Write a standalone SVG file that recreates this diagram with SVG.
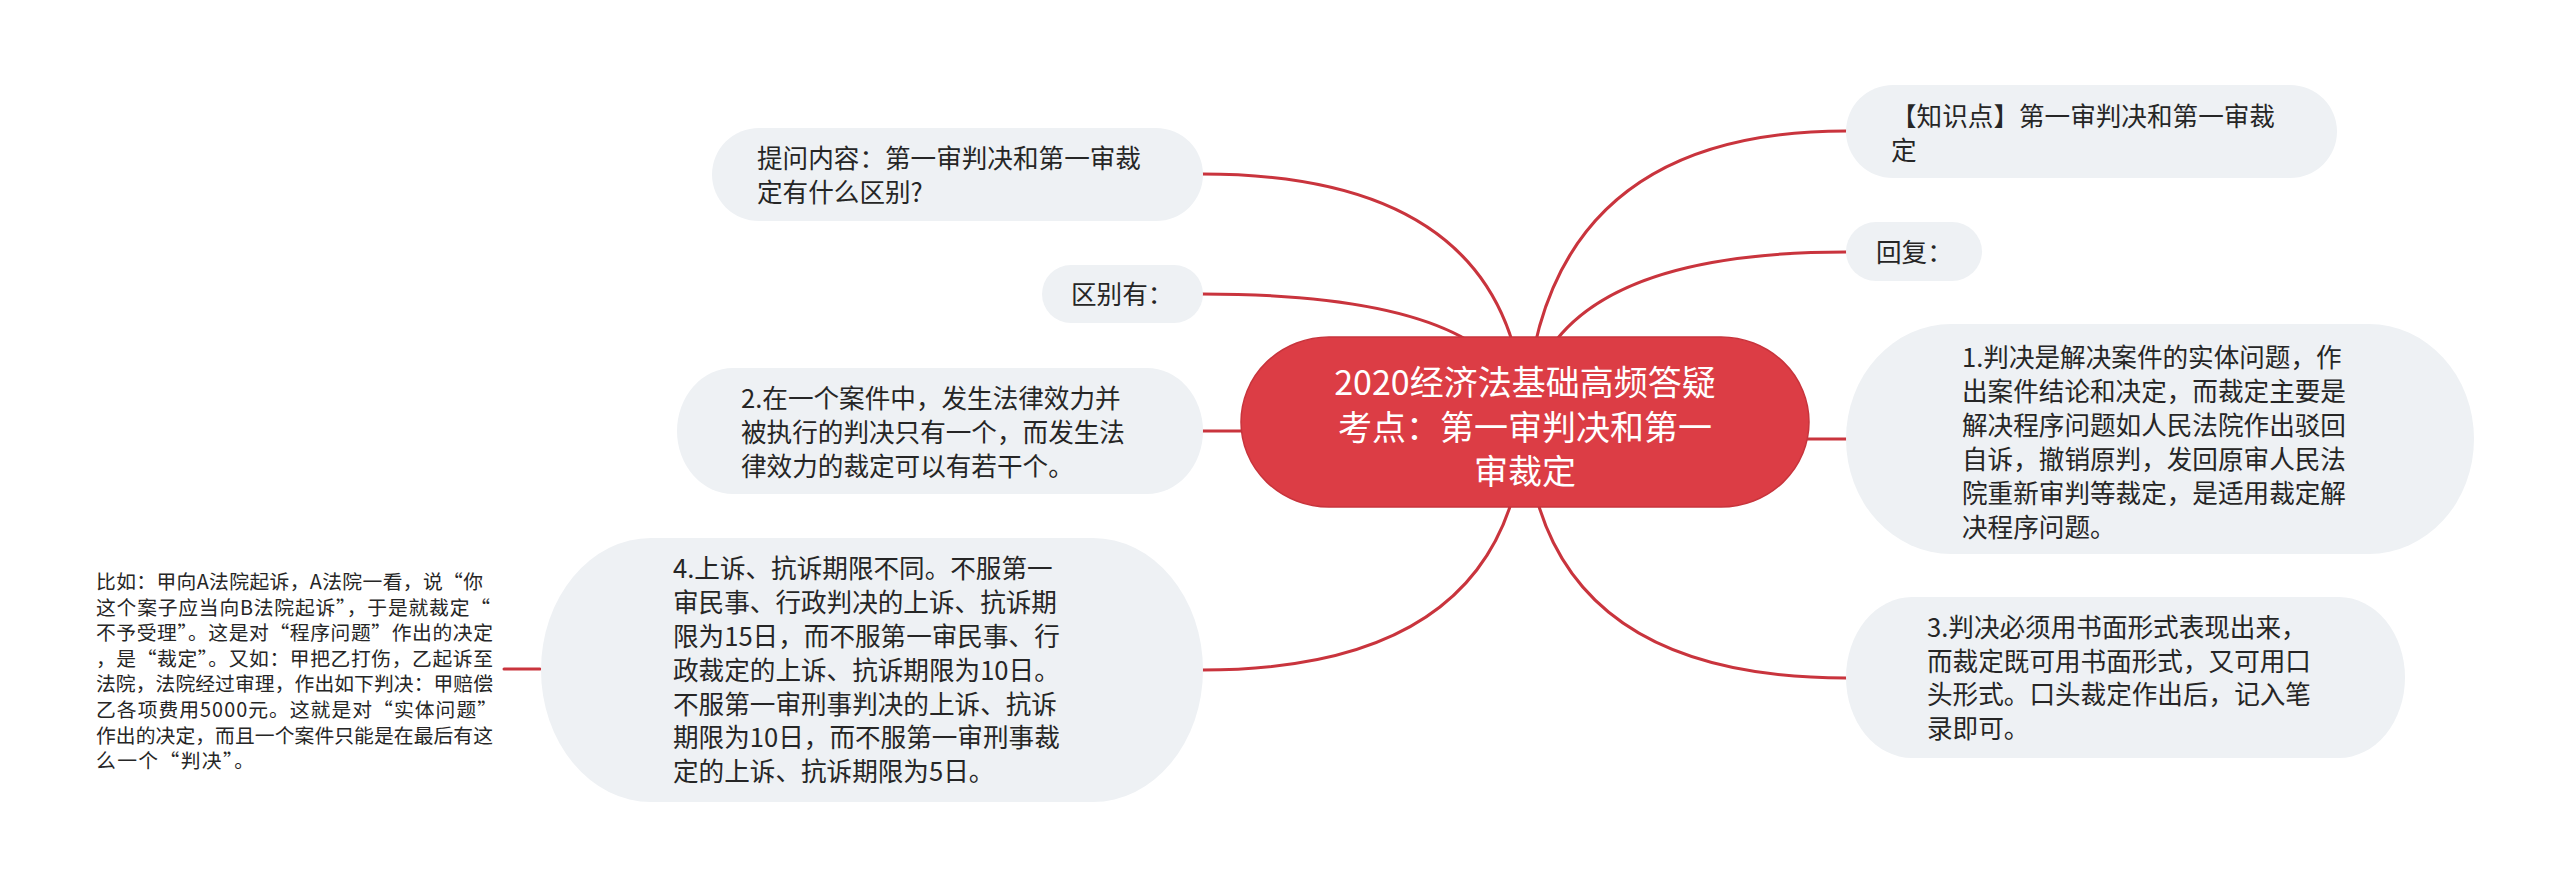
<svg xmlns="http://www.w3.org/2000/svg" width="2560" height="887" viewBox="0 0 2560 887">
<style>
.bg{fill:#ffffff}
.edge{fill:none;stroke:#c9343d;stroke-width:3;stroke-linecap:round}
.box{fill:#eef1f4}
.root{fill:#dc3d45;stroke:#c8343c;stroke-width:1.5}
.t{font-family:"Noto Sans CJK SC","Noto Sans",sans-serif;font-size:25.6px;fill:#262626}
.s{font-family:"Noto Sans CJK SC","Noto Sans",sans-serif;font-size:19.8px;fill:#262626}
.rt{font-family:"Noto Sans CJK SC","Noto Sans",sans-serif;font-size:34px;fill:#ffffff;text-anchor:middle}
</style>
<rect class="bg" x="0" y="0" width="2560" height="887"/>
<g id="connectors">
<path class="edge" d="M1525,420 Q1540,131 1846,131"/>
<path class="edge" d="M1525,420 Q1542,252 1846,252"/>
<path class="edge" d="M1525,439 L1846,439"/>
<path class="edge" d="M1525,420 Q1535,678 1846,678"/>
<path class="edge" d="M1525,420 Q1515,174 1202,174"/>
<path class="edge" d="M1525,420 Q1510,294 1202,294"/>
<path class="edge" d="M1525,431 L1202,431"/>
<path class="edge" d="M1525,420 Q1515,670 1202,670"/>
<path class="edge" d="M540,669 L504,669"/>
</g>
<g id="root">
<rect class="root" x="1241" y="337" width="568" height="170" rx="88" ry="85"/>
<text class="rt" x="1525" y="395">2020经济法基础高频答疑</text>
<text class="rt" x="1525" y="440">考点：第一审判决和第一</text>
<text class="rt" x="1525" y="484">审裁定</text>
</g>
<g id="n-zhishidian">
<rect class="box" x="1846" y="85" width="491" height="93" rx="47" ry="46.5"/>
<text class="t" x="1891" y="126">【知识点】第一审判决和第一审裁</text>
<text class="t" x="1891" y="160">定</text>
</g>
<g id="n-huifu">
<rect class="box" x="1846" y="222" width="136" height="59" rx="30" ry="29.5"/>
<text class="t" x="1876" y="262">回复：</text>
</g>
<g id="n-1">
<rect class="box" x="1846" y="324" width="628" height="230" rx="105" ry="115"/>
<text class="t" x="1962" y="367">1.判决是解决案件的实体问题，作</text>
<text class="t" x="1962" y="401">出案件结论和决定，而裁定主要是</text>
<text class="t" x="1962" y="435">解决程序问题如人民法院作出驳回</text>
<text class="t" x="1962" y="469">自诉，撤销原判，发回原审人民法</text>
<text class="t" x="1962" y="503">院重新审判等裁定，是适用裁定解</text>
<text class="t" x="1962" y="537">决程序问题。</text>
</g>
<g id="n-3">
<rect class="box" x="1846" y="597" width="559" height="161" rx="66" ry="80.5"/>
<text class="t" x="1927" y="637">3.判决必须用书面形式表现出来，</text>
<text class="t" x="1927" y="671">而裁定既可用书面形式，又可用口</text>
<text class="t" x="1927" y="704">头形式。口头裁定作出后，记入笔</text>
<text class="t" x="1927" y="738">录即可。</text>
</g>
<g id="n-tiwen">
<rect class="box" x="712" y="128" width="491" height="93" rx="47" ry="46.5"/>
<text class="t" x="757" y="168">提问内容：第一审判决和第一审裁</text>
<text class="t" x="757" y="202">定有什么区别?</text>
</g>
<g id="n-qubie">
<rect class="box" x="1042" y="265" width="161" height="58" rx="29" ry="29"/>
<text class="t" x="1071" y="304">区别有：</text>
</g>
<g id="n-2">
<rect class="box" x="677" y="368" width="526" height="126" rx="56" ry="63"/>
<text class="t" x="741" y="408">2.在一个案件中，发生法律效力并</text>
<text class="t" x="741" y="442">被执行的判决只有一个，而发生法</text>
<text class="t" x="741" y="476">律效力的裁定可以有若干个。</text>
</g>
<g id="n-4">
<rect class="box" x="541" y="538" width="662" height="264" rx="110" ry="132"/>
<text class="t" x="673" y="578">4.上诉、抗诉期限不同。不服第一</text>
<text class="t" x="673" y="612">审民事、行政判决的上诉、抗诉期</text>
<text class="t" x="673" y="646">限为15日，而不服第一审民事、行</text>
<text class="t" x="673" y="680">政裁定的上诉、抗诉期限为10日。</text>
<text class="t" x="673" y="714">不服第一审刑事判决的上诉、抗诉</text>
<text class="t" x="673" y="747">期限为10日，而不服第一审刑事裁</text>
<text class="t" x="673" y="781">定的上诉、抗诉期限为5日。</text>
</g>
<g id="n-note">
<text class="s" x="96" y="589" textLength="387" lengthAdjust="spacing">比如：甲向A法院起诉，A法院一看，说“你</text>
<text class="s" x="96" y="615" textLength="394" lengthAdjust="spacing">这个案子应当向B法院起诉”，于是就裁定“</text>
<text class="s" x="96" y="640" textLength="397" lengthAdjust="spacing">不予受理”。这是对“程序问题”作出的决定</text>
<text class="s" x="96" y="666" textLength="397" lengthAdjust="spacing">，是“裁定”。又如：甲把乙打伤，乙起诉至</text>
<text class="s" x="96" y="691" textLength="397" lengthAdjust="spacing">法院，法院经过审理，作出如下判决：甲赔偿</text>
<text class="s" x="96" y="717" textLength="401" lengthAdjust="spacing">乙各项费用5000元。这就是对“实体问题”</text>
<text class="s" x="96" y="743" textLength="397" lengthAdjust="spacing">作出的决定，而且一个案件只能是在最后有这</text>
<text class="s" x="96" y="768" textLength="158" lengthAdjust="spacing">么一个“判决”。</text>
</g>
</svg>
